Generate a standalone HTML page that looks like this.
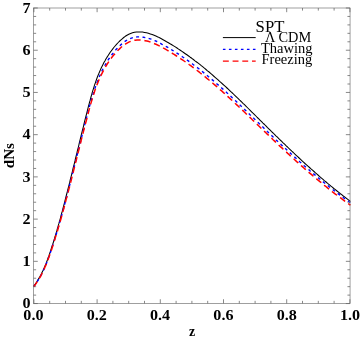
<!DOCTYPE html>
<html><head><meta charset="utf-8"><title>dNs vs z</title>
<style>
html,body{margin:0;padding:0;background:#fff;}
body{width:360px;height:339px;overflow:hidden;font-family:"Liberation Serif",serif;}
svg{display:block;}
text{font-family:"Liberation Serif",serif;fill:#000;}
.b text{font-weight:bold;}
</style></head><body>
<svg width="360" height="339" viewBox="0 0 360 339">
<rect width="360" height="339" fill="#fff"/>
<g fill="none" stroke-linejoin="round">
<path d="M33.6,286.3 L34.8,284.7 L36.0,283.0 L37.1,281.3 L38.1,279.6 L39.2,277.9 L40.1,276.2 L41.1,274.4 L42.0,272.6 L42.9,270.8 L43.7,268.9 L44.5,267.1 L45.3,265.3 L46.1,263.4 L46.8,261.5 L47.5,259.7 L48.2,257.8 L48.9,255.9 L49.5,254.0 L50.2,252.1 L50.8,250.1 L51.4,248.2 L52.0,246.3 L52.7,244.4 L53.3,242.5 L53.9,240.6 L54.5,238.6 L55.0,236.7 L55.6,234.8 L56.2,232.8 L56.8,230.9 L57.3,229.0 L57.9,227.0 L58.4,225.1 L59.0,223.2 L59.5,221.2 L60.1,219.3 L60.6,217.3 L61.1,215.4 L61.6,213.5 L62.2,211.5 L62.7,209.6 L63.2,207.6 L63.7,205.7 L64.2,203.8 L64.7,201.8 L65.2,199.9 L65.7,197.9 L66.2,196.0 L66.7,194.0 L67.2,192.1 L67.7,190.2 L68.2,188.2 L68.7,186.3 L69.2,184.3 L69.7,182.4 L70.1,180.5 L70.6,178.5 L71.1,176.6 L71.6,174.6 L72.1,172.6 L72.6,170.7 L73.0,168.7 L73.5,166.7 L74.0,164.8 L74.5,162.8 L75.0,160.9 L75.4,158.9 L75.9,157.0 L76.4,155.0 L76.9,153.1 L77.3,151.2 L77.8,149.2 L78.3,147.3 L78.8,145.3 L79.2,143.4 L79.7,141.4 L80.2,139.5 L80.7,137.5 L81.1,135.6 L81.6,133.6 L82.1,131.7 L82.6,129.7 L83.1,127.8 L83.6,125.8 L84.0,123.9 L84.5,121.9 L85.0,119.9 L85.5,118.0 L86.0,116.0 L86.5,114.1 L87.0,112.1 L87.5,110.1 L88.0,108.2 L88.5,106.2 L89.0,104.3 L89.5,102.4 L90.1,100.4 L90.6,98.5 L91.1,96.5 L91.7,94.6 L92.2,92.6 L92.8,90.7 L93.4,88.8 L94.0,86.8 L94.6,84.9 L95.3,83.0 L95.9,81.1 L96.6,79.2 L97.3,77.3 L98.0,75.5 L98.8,73.6 L99.6,71.7 L100.4,69.9 L101.2,68.0 L102.1,66.2 L103.0,64.4 L103.9,62.6 L104.9,60.9 L105.9,59.1 L106.9,57.4 L108.0,55.7 L109.1,54.0 L110.2,52.3 L111.4,50.7 L112.6,49.1 L113.8,47.5 L115.1,46.0 L116.5,44.4 L117.8,43.0 L119.2,41.5 L120.7,40.1 L122.2,38.8 L123.7,37.5 L125.3,36.3 L127.0,35.2 L128.8,34.2 L130.6,33.4 L132.5,32.8 L134.5,32.3 L136.5,32.0 L138.5,31.9 L140.5,31.9 L142.5,32.1 L144.5,32.4 L146.5,32.8 L148.4,33.3 L150.3,33.9 L152.2,34.5 L154.1,35.3 L155.9,36.1 L157.8,36.9 L159.6,37.8 L161.4,38.8 L163.1,39.7 L164.9,40.7 L166.6,41.7 L168.4,42.7 L170.1,43.8 L171.8,44.8 L173.6,45.9 L175.3,46.9 L177.0,48.0 L178.6,49.1 L180.3,50.2 L182.0,51.4 L183.6,52.5 L185.3,53.7 L186.9,54.8 L188.6,56.0 L190.2,57.2 L191.8,58.3 L193.4,59.5 L195.0,60.8 L196.6,62.0 L198.2,63.2 L199.8,64.4 L201.3,65.7 L202.9,66.9 L204.4,68.2 L206.0,69.5 L207.5,70.8 L209.1,72.0 L210.6,73.3 L212.1,74.6 L213.6,76.0 L215.1,77.3 L216.6,78.6 L218.1,79.9 L219.6,81.3 L221.1,82.6 L222.6,84.0 L224.1,85.3 L225.6,86.7 L227.0,88.0 L228.5,89.4 L230.0,90.8 L231.4,92.2 L232.9,93.5 L234.3,94.9 L235.8,96.3 L237.2,97.7 L238.7,99.1 L240.1,100.5 L241.6,101.9 L243.0,103.3 L244.5,104.7 L245.9,106.1 L247.3,107.5 L248.8,109.0 L250.2,110.4 L251.6,111.8 L253.0,113.2 L254.5,114.6 L255.9,116.0 L257.3,117.5 L258.8,118.9 L260.2,120.3 L261.6,121.7 L263.0,123.1 L264.5,124.5 L265.9,125.9 L267.3,127.4 L268.8,128.8 L270.2,130.2 L271.6,131.6 L273.1,133.0 L274.5,134.4 L275.9,135.8 L277.4,137.2 L278.8,138.6 L280.2,140.0 L281.7,141.4 L283.1,142.8 L284.6,144.2 L286.0,145.6 L287.5,147.0 L288.9,148.4 L290.4,149.8 L291.8,151.2 L293.3,152.5 L294.7,153.9 L296.2,155.3 L297.7,156.7 L299.1,158.0 L300.6,159.4 L302.1,160.8 L303.5,162.1 L305.0,163.5 L306.5,164.8 L308.0,166.2 L309.5,167.5 L311.0,168.9 L312.5,170.2 L314.0,171.5 L315.5,172.9 L317.0,174.2 L318.5,175.5 L320.0,176.8 L321.5,178.1 L323.0,179.4 L324.6,180.8 L326.1,182.0 L327.6,183.3 L329.2,184.6 L330.7,185.9 L332.3,187.2 L333.8,188.5 L335.4,189.7 L337.0,191.0 L338.5,192.2 L340.1,193.5 L341.7,194.7 L343.3,196.0 L344.9,197.2 L346.5,198.4 L348.1,199.6 L349.7,200.9 L350.5,201.4" stroke="#000" stroke-width="1.05"/>
<path d="M33.6,286.7 L34.8,285.0 L36.0,283.4 L37.1,281.7 L38.2,280.1 L39.2,278.3 L40.2,276.6 L41.2,274.8 L42.1,273.0 L43.0,271.2 L43.9,269.4 L44.7,267.5 L45.5,265.7 L46.3,263.8 L47.0,261.9 L47.7,260.0 L48.4,258.1 L49.1,256.2 L49.8,254.3 L50.4,252.4 L51.1,250.5 L51.7,248.6 L52.3,246.7 L52.9,244.8 L53.5,242.9 L54.1,241.0 L54.7,239.1 L55.3,237.2 L55.9,235.3 L56.5,233.4 L57.1,231.4 L57.7,229.5 L58.2,227.6 L58.8,225.6 L59.3,223.7 L59.9,221.7 L60.5,219.8 L61.0,217.8 L61.5,215.9 L62.1,213.9 L62.6,212.0 L63.1,210.0 L63.7,208.1 L64.2,206.1 L64.7,204.2 L65.2,202.2 L65.7,200.2 L66.2,198.3 L66.8,196.3 L67.3,194.4 L67.8,192.4 L68.3,190.4 L68.8,188.5 L69.3,186.5 L69.8,184.6 L70.3,182.6 L70.8,180.6 L71.3,178.7 L71.7,176.7 L72.2,174.8 L72.7,172.8 L73.2,170.8 L73.7,168.9 L74.2,166.9 L74.7,165.0 L75.2,163.0 L75.7,161.0 L76.2,159.1 L76.6,157.1 L77.1,155.1 L77.6,153.2 L78.1,151.2 L78.6,149.2 L79.1,147.3 L79.6,145.3 L80.0,143.4 L80.5,141.5 L81.0,139.5 L81.5,137.6 L82.0,135.6 L82.5,133.7 L83.0,131.7 L83.5,129.8 L84.0,127.8 L84.4,125.9 L84.9,123.9 L85.4,122.0 L85.9,120.0 L86.4,118.1 L87.0,116.1 L87.5,114.1 L88.0,112.2 L88.5,110.2 L89.0,108.3 L89.5,106.3 L90.1,104.4 L90.6,102.4 L91.2,100.4 L91.7,98.5 L92.3,96.6 L92.9,94.6 L93.5,92.7 L94.1,90.8 L94.7,88.9 L95.4,86.9 L96.0,85.1 L96.7,83.2 L97.5,81.3 L98.2,79.4 L99.0,77.6 L99.8,75.7 L100.6,73.9 L101.4,72.0 L102.3,70.2 L103.2,68.4 L104.2,66.6 L105.2,64.9 L106.2,63.1 L107.2,61.4 L108.3,59.7 L109.5,58.0 L110.6,56.4 L111.8,54.8 L113.1,53.2 L114.3,51.6 L115.6,50.1 L117.0,48.6 L118.4,47.2 L119.8,45.7 L121.3,44.4 L122.8,43.1 L124.4,41.8 L126.1,40.7 L127.8,39.7 L129.6,38.8 L131.5,38.1 L133.4,37.5 L135.4,37.1 L137.4,36.9 L139.4,36.9 L141.4,37.0 L143.4,37.3 L145.4,37.6 L147.3,38.1 L149.3,38.6 L151.2,39.2 L153.1,39.9 L154.9,40.7 L156.8,41.5 L158.6,42.4 L160.4,43.3 L162.1,44.3 L163.9,45.2 L165.6,46.2 L167.4,47.2 L169.1,48.3 L170.9,49.3 L172.6,50.4 L174.3,51.4 L176.0,52.5 L177.7,53.6 L179.4,54.7 L181.0,55.8 L182.7,57.0 L184.4,58.1 L186.0,59.2 L187.6,60.4 L189.3,61.6 L190.9,62.8 L192.5,64.0 L194.1,65.2 L195.7,66.4 L197.3,67.6 L198.9,68.8 L200.5,70.1 L202.0,71.3 L203.6,72.6 L205.2,73.9 L206.8,75.2 L208.3,76.5 L209.9,77.8 L211.4,79.1 L213.0,80.4 L214.5,81.7 L216.0,83.0 L217.5,84.4 L219.1,85.7 L220.6,87.0 L222.1,88.4 L223.6,89.7 L225.1,91.1 L226.6,92.5 L228.1,93.8 L229.5,95.2 L231.0,96.6 L232.5,98.0 L234.0,99.3 L235.5,100.7 L236.9,102.1 L238.4,103.5 L239.9,104.9 L241.3,106.3 L242.8,107.7 L244.2,109.1 L245.7,110.5 L247.1,111.9 L248.6,113.3 L250.0,114.7 L251.5,116.1 L252.9,117.5 L254.4,118.9 L255.8,120.3 L257.3,121.7 L258.7,123.1 L260.2,124.5 L261.6,125.9 L263.1,127.3 L264.5,128.7 L266.0,130.1 L267.4,131.5 L268.9,132.9 L270.3,134.3 L271.8,135.7 L273.2,137.1 L274.7,138.5 L276.1,139.9 L277.6,141.3 L279.1,142.6 L280.5,144.0 L282.0,145.4 L283.4,146.8 L284.9,148.1 L286.4,149.5 L287.8,150.9 L289.3,152.2 L290.8,153.6 L292.3,154.9 L293.7,156.3 L295.2,157.6 L296.7,159.0 L298.2,160.3 L299.7,161.7 L301.2,163.0 L302.7,164.3 L304.2,165.7 L305.7,167.0 L307.2,168.3 L308.7,169.6 L310.2,171.0 L311.8,172.3 L313.3,173.6 L314.9,174.9 L316.4,176.2 L318.0,177.5 L319.5,178.8 L321.1,180.1 L322.6,181.4 L324.2,182.7 L325.8,184.0 L327.4,185.2 L328.9,186.5 L330.5,187.7 L332.1,189.0 L333.6,190.2 L335.2,191.4 L336.8,192.7 L338.4,193.9 L340.0,195.1 L341.6,196.3 L343.2,197.5 L344.8,198.7 L346.4,199.9 L348.1,201.0 L349.7,202.2 L350.5,202.8" stroke="#0000ff" stroke-width="1.4" stroke-dasharray="2.9 3.4"/>
<path d="M33.6,286.8 L34.8,285.2 L36.0,283.6 L37.1,281.9 L38.2,280.2 L39.3,278.5 L40.3,276.8 L41.2,275.0 L42.2,273.2 L43.0,271.4 L43.9,269.6 L44.7,267.8 L45.5,265.9 L46.3,264.1 L47.0,262.2 L47.7,260.3 L48.4,258.5 L49.1,256.6 L49.8,254.7 L50.5,252.8 L51.1,250.9 L51.8,248.9 L52.4,247.0 L53.0,245.1 L53.6,243.2 L54.2,241.3 L54.8,239.4 L55.4,237.4 L56.0,235.5 L56.6,233.6 L57.2,231.7 L57.8,229.7 L58.3,227.8 L58.9,225.9 L59.5,224.0 L60.0,222.0 L60.6,220.1 L61.1,218.2 L61.6,216.2 L62.2,214.3 L62.7,212.4 L63.2,210.4 L63.8,208.5 L64.3,206.6 L64.8,204.6 L65.3,202.7 L65.8,200.7 L66.3,198.8 L66.9,196.9 L67.4,194.9 L67.9,193.0 L68.4,191.1 L68.9,189.1 L69.4,187.2 L69.9,185.2 L70.4,183.3 L70.9,181.4 L71.4,179.4 L71.8,177.5 L72.3,175.5 L72.8,173.6 L73.3,171.7 L73.8,169.7 L74.3,167.8 L74.8,165.8 L75.3,163.9 L75.8,161.9 L76.3,160.0 L76.7,158.1 L77.2,156.1 L77.7,154.2 L78.2,152.2 L78.7,150.3 L79.2,148.3 L79.7,146.4 L80.2,144.4 L80.7,142.5 L81.1,140.5 L81.6,138.6 L82.1,136.6 L82.6,134.7 L83.1,132.7 L83.6,130.8 L84.1,128.8 L84.6,126.9 L85.1,124.9 L85.6,123.0 L86.2,121.0 L86.7,119.1 L87.2,117.1 L87.7,115.2 L88.2,113.2 L88.7,111.3 L89.2,109.4 L89.8,107.4 L90.3,105.5 L90.8,103.6 L91.4,101.6 L92.0,99.7 L92.5,97.8 L93.1,95.9 L93.8,93.9 L94.4,92.0 L95.0,90.1 L95.7,88.2 L96.4,86.3 L97.1,84.4 L97.9,82.6 L98.6,80.7 L99.4,78.9 L100.2,77.0 L101.1,75.2 L102.0,73.4 L102.9,71.6 L103.8,69.8 L104.8,68.0 L105.8,66.3 L106.9,64.5 L108.0,62.8 L109.1,61.2 L110.3,59.5 L111.5,57.9 L112.7,56.3 L114.0,54.8 L115.3,53.3 L116.7,51.8 L118.0,50.3 L119.5,48.9 L120.9,47.5 L122.5,46.2 L124.1,45.0 L125.7,43.9 L127.5,42.8 L129.3,41.9 L131.1,41.2 L133.1,40.6 L135.1,40.2 L137.1,40.0 L139.1,40.0 L141.1,40.1 L143.1,40.3 L145.1,40.7 L147.0,41.1 L149.0,41.6 L150.9,42.2 L152.8,42.9 L154.6,43.7 L156.5,44.5 L158.3,45.4 L160.1,46.3 L161.9,47.2 L163.6,48.2 L165.4,49.2 L167.1,50.2 L168.9,51.2 L170.6,52.3 L172.3,53.3 L174.1,54.4 L175.8,55.5 L177.5,56.6 L179.1,57.7 L180.8,58.8 L182.5,59.9 L184.1,61.0 L185.8,62.2 L187.4,63.3 L189.0,64.5 L190.7,65.7 L192.3,66.8 L193.9,68.1 L195.5,69.3 L197.1,70.5 L198.7,71.7 L200.3,73.0 L201.9,74.2 L203.5,75.5 L205.1,76.8 L206.6,78.1 L208.2,79.3 L209.7,80.6 L211.3,81.9 L212.8,83.2 L214.4,84.6 L215.9,85.9 L217.4,87.2 L218.9,88.5 L220.4,89.9 L222.0,91.2 L223.5,92.6 L225.0,93.9 L226.5,95.3 L227.9,96.6 L229.4,98.0 L230.9,99.4 L232.4,100.7 L233.9,102.1 L235.3,103.5 L236.8,104.9 L238.3,106.3 L239.7,107.6 L241.2,109.0 L242.7,110.4 L244.1,111.8 L245.6,113.2 L247.0,114.6 L248.5,116.0 L249.9,117.4 L251.4,118.8 L252.8,120.2 L254.3,121.6 L255.7,123.0 L257.2,124.4 L258.6,125.8 L260.1,127.2 L261.5,128.6 L263.0,130.0 L264.4,131.4 L265.9,132.7 L267.3,134.1 L268.8,135.5 L270.2,136.9 L271.7,138.3 L273.1,139.7 L274.6,141.1 L276.0,142.4 L277.5,143.8 L278.9,145.2 L280.4,146.6 L281.9,147.9 L283.3,149.3 L284.8,150.7 L286.3,152.0 L287.7,153.4 L289.2,154.7 L290.7,156.1 L292.2,157.5 L293.7,158.8 L295.2,160.2 L296.7,161.6 L298.2,162.9 L299.7,164.3 L301.2,165.6 L302.7,166.9 L304.2,168.3 L305.8,169.6 L307.3,170.9 L308.8,172.3 L310.4,173.6 L311.9,174.9 L313.4,176.2 L315.0,177.5 L316.5,178.8 L318.1,180.1 L319.6,181.4 L321.2,182.7 L322.8,184.0 L324.3,185.3 L325.9,186.5 L327.5,187.8 L329.1,189.1 L330.6,190.3 L332.2,191.6 L333.8,192.8 L335.4,194.1 L337.1,195.3 L338.7,196.5 L340.3,197.7 L341.9,198.9 L343.5,200.1 L345.1,201.3 L346.7,202.5 L348.3,203.6 L350.0,204.8 L350.5,205.2" stroke="#ff0000" stroke-width="1.5" stroke-dasharray="6.3 3.8"/>
</g>
<g fill="none" stroke="#666" stroke-width="0.62">
<rect x="33.55" y="8.0" width="316.5" height="295.45"/>
</g>
<g fill="none" stroke="#666" stroke-width="0.78">
<path d="M33.55,303.55h4.2"/>
<path d="M350.05,303.55h-4.2"/>
<path d="M33.55,295.11h2.6"/>
<path d="M350.05,295.11h-2.6"/>
<path d="M33.55,286.66h2.6"/>
<path d="M350.05,286.66h-2.6"/>
<path d="M33.55,278.22h2.6"/>
<path d="M350.05,278.22h-2.6"/>
<path d="M33.55,269.77h2.6"/>
<path d="M350.05,269.77h-2.6"/>
<path d="M33.55,261.33h4.2"/>
<path d="M350.05,261.33h-4.2"/>
<path d="M33.55,252.89h2.6"/>
<path d="M350.05,252.89h-2.6"/>
<path d="M33.55,244.44h2.6"/>
<path d="M350.05,244.44h-2.6"/>
<path d="M33.55,236.00h2.6"/>
<path d="M350.05,236.00h-2.6"/>
<path d="M33.55,227.55h2.6"/>
<path d="M350.05,227.55h-2.6"/>
<path d="M33.55,219.11h4.2"/>
<path d="M350.05,219.11h-4.2"/>
<path d="M33.55,210.67h2.6"/>
<path d="M350.05,210.67h-2.6"/>
<path d="M33.55,202.22h2.6"/>
<path d="M350.05,202.22h-2.6"/>
<path d="M33.55,193.78h2.6"/>
<path d="M350.05,193.78h-2.6"/>
<path d="M33.55,185.33h2.6"/>
<path d="M350.05,185.33h-2.6"/>
<path d="M33.55,176.89h4.2"/>
<path d="M350.05,176.89h-4.2"/>
<path d="M33.55,168.45h2.6"/>
<path d="M350.05,168.45h-2.6"/>
<path d="M33.55,160.00h2.6"/>
<path d="M350.05,160.00h-2.6"/>
<path d="M33.55,151.56h2.6"/>
<path d="M350.05,151.56h-2.6"/>
<path d="M33.55,143.11h2.6"/>
<path d="M350.05,143.11h-2.6"/>
<path d="M33.55,134.67h4.2"/>
<path d="M350.05,134.67h-4.2"/>
<path d="M33.55,126.23h2.6"/>
<path d="M350.05,126.23h-2.6"/>
<path d="M33.55,117.78h2.6"/>
<path d="M350.05,117.78h-2.6"/>
<path d="M33.55,109.34h2.6"/>
<path d="M350.05,109.34h-2.6"/>
<path d="M33.55,100.89h2.6"/>
<path d="M350.05,100.89h-2.6"/>
<path d="M33.55,92.45h4.2"/>
<path d="M350.05,92.45h-4.2"/>
<path d="M33.55,84.01h2.6"/>
<path d="M350.05,84.01h-2.6"/>
<path d="M33.55,75.56h2.6"/>
<path d="M350.05,75.56h-2.6"/>
<path d="M33.55,67.12h2.6"/>
<path d="M350.05,67.12h-2.6"/>
<path d="M33.55,58.67h2.6"/>
<path d="M350.05,58.67h-2.6"/>
<path d="M33.55,50.23h4.2"/>
<path d="M350.05,50.23h-4.2"/>
<path d="M33.55,41.79h2.6"/>
<path d="M350.05,41.79h-2.6"/>
<path d="M33.55,33.34h2.6"/>
<path d="M350.05,33.34h-2.6"/>
<path d="M33.55,24.90h2.6"/>
<path d="M350.05,24.90h-2.6"/>
<path d="M33.55,16.45h2.6"/>
<path d="M350.05,16.45h-2.6"/>
<path d="M33.55,8.01h4.2"/>
<path d="M350.05,8.01h-4.2"/>
<path d="M33.90,303.45v-4.2"/>
<path d="M33.90,8.00v4.2"/>
<path d="M49.70,303.45v-2.6"/>
<path d="M49.70,8.00v2.6"/>
<path d="M65.50,303.45v-2.6"/>
<path d="M65.50,8.00v2.6"/>
<path d="M81.30,303.45v-2.6"/>
<path d="M81.30,8.00v2.6"/>
<path d="M97.10,303.45v-4.2"/>
<path d="M97.10,8.00v4.2"/>
<path d="M112.90,303.45v-2.6"/>
<path d="M112.90,8.00v2.6"/>
<path d="M128.70,303.45v-2.6"/>
<path d="M128.70,8.00v2.6"/>
<path d="M144.50,303.45v-2.6"/>
<path d="M144.50,8.00v2.6"/>
<path d="M160.30,303.45v-4.2"/>
<path d="M160.30,8.00v4.2"/>
<path d="M176.10,303.45v-2.6"/>
<path d="M176.10,8.00v2.6"/>
<path d="M191.90,303.45v-2.6"/>
<path d="M191.90,8.00v2.6"/>
<path d="M207.70,303.45v-2.6"/>
<path d="M207.70,8.00v2.6"/>
<path d="M223.50,303.45v-4.2"/>
<path d="M223.50,8.00v4.2"/>
<path d="M239.30,303.45v-2.6"/>
<path d="M239.30,8.00v2.6"/>
<path d="M255.10,303.45v-2.6"/>
<path d="M255.10,8.00v2.6"/>
<path d="M270.90,303.45v-2.6"/>
<path d="M270.90,8.00v2.6"/>
<path d="M286.70,303.45v-4.2"/>
<path d="M286.70,8.00v4.2"/>
<path d="M302.50,303.45v-2.6"/>
<path d="M302.50,8.00v2.6"/>
<path d="M318.30,303.45v-2.6"/>
<path d="M318.30,8.00v2.6"/>
<path d="M334.10,303.45v-2.6"/>
<path d="M334.10,8.00v2.6"/>
<path d="M349.90,303.45v-4.2"/>
<path d="M349.90,8.00v4.2"/>
</g>
<g class="b" style="filter:grayscale(1)">
<text transform="translate(30.50,308.30) scale(1.04,1)" text-anchor="end" style="font-size:15.5px">0</text>
<text transform="translate(30.50,266.08) scale(1.04,1)" text-anchor="end" style="font-size:15.5px">1</text>
<text transform="translate(30.50,223.86) scale(1.04,1)" text-anchor="end" style="font-size:15.5px">2</text>
<text transform="translate(30.50,181.64) scale(1.04,1)" text-anchor="end" style="font-size:15.5px">3</text>
<text transform="translate(30.50,139.42) scale(1.04,1)" text-anchor="end" style="font-size:15.5px">4</text>
<text transform="translate(30.50,97.20) scale(1.04,1)" text-anchor="end" style="font-size:15.5px">5</text>
<text transform="translate(30.50,54.98) scale(1.04,1)" text-anchor="end" style="font-size:15.5px">6</text>
<text transform="translate(30.50,12.76) scale(1.04,1)" text-anchor="end" style="font-size:15.5px">7</text>
<text transform="translate(33.40,320.00) scale(1.04,1)" text-anchor="middle" style="font-size:15.5px">0.0</text>
<text transform="translate(96.74,320.00) scale(1.04,1)" text-anchor="middle" style="font-size:15.5px">0.2</text>
<text transform="translate(160.08,320.00) scale(1.04,1)" text-anchor="middle" style="font-size:15.5px">0.4</text>
<text transform="translate(223.42,320.00) scale(1.04,1)" text-anchor="middle" style="font-size:15.5px">0.6</text>
<text transform="translate(286.76,320.00) scale(1.04,1)" text-anchor="middle" style="font-size:15.5px">0.8</text>
<text transform="translate(350.10,320.00) scale(1.04,1)" text-anchor="middle" style="font-size:15.5px">1.0</text>
<text transform="translate(192.00,335.80) scale(1.0,1)" text-anchor="middle" style="font-size:14px">z</text>
<text transform="translate(13.7,155.6) rotate(-90)" text-anchor="middle" style="font-size:15.1px">dNs</text>
</g>
<g fill="none">
<path d="M222.9,37.6H255.7" stroke="#000" stroke-width="1"/>
<path d="M222.9,49.3H255.7" stroke="#0000ff" stroke-width="1.25" stroke-dasharray="2.6 3.4"/>
<path d="M222.9,61.2H255.7" stroke="#ff0000" stroke-width="1.25" stroke-dasharray="5.9 3.8"/>
</g>
<g style="filter:grayscale(1)">
<text transform="translate(255.60,32.20) scale(1.03,1)" text-anchor="start" style="font-size:16.2px">SPT</text>
<text transform="translate(264.90,41.80) scale(1.0,1)" text-anchor="start" style="font-size:14.35px">Λ CDM</text>
<text transform="translate(261.00,52.90) scale(1.0,1)" text-anchor="start" style="font-size:14.5px">Thawing</text>
<text transform="translate(261.50,63.90) scale(1.0,1)" text-anchor="start" style="font-size:14.5px">Freezing</text>
</g>
</svg>
</body></html>
